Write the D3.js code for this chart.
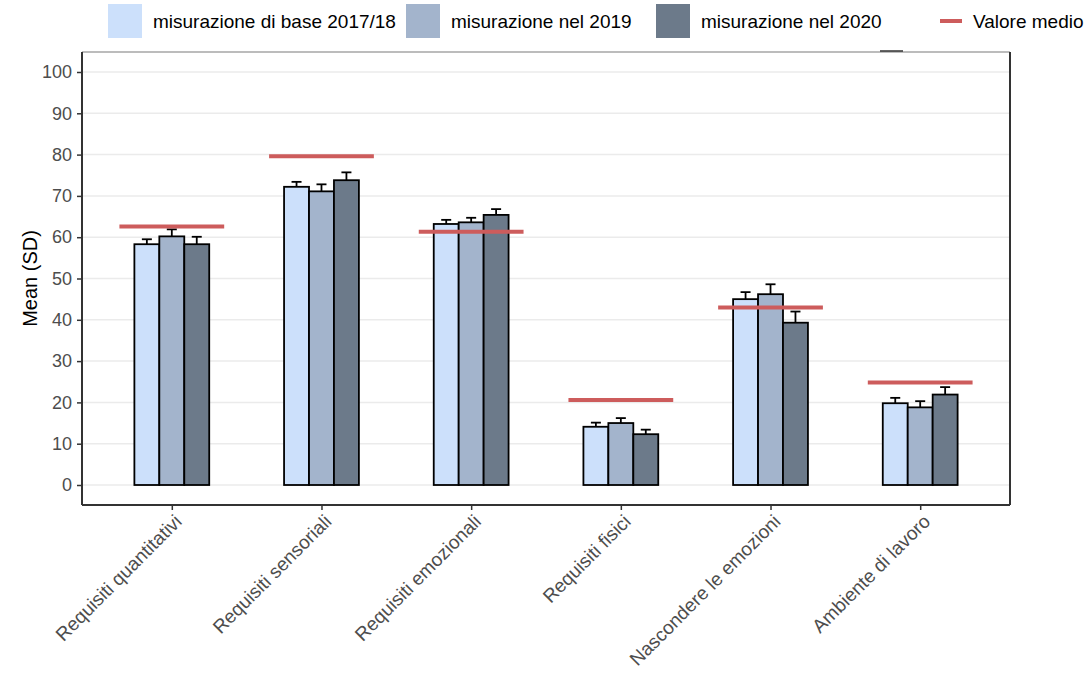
<!DOCTYPE html>
<html>
<head>
<meta charset="utf-8">
<script src="https://cdn.jsdelivr.net/npm/d3@7"></script>
<style>
  body { margin: 0; background: #fff; }
  svg { font-family: "Liberation Sans", Arial, sans-serif; }
</style>
</head>
<body>
<div id="chart"></div>
<script>
// data
var categories = ["Requisiti quantitativi", "Requisiti sensoriali", "Requisiti emozionali",
                  "Requisiti fisici", "Nascondere le emozioni", "Ambiente di lavoro"];
var seriesNames = ["misurazione di base 2017/18", "misurazione nel 2019", "misurazione nel 2020"];
var means2017 = [58.3, 72.2, 63.2, 14.1, 45.0, 19.8];
var sd2017    = [1.2, 1.2, 1.0, 1.0, 1.7, 1.3];
var means2019 = [60.2, 71.1, 63.6, 15.0, 46.2, 18.8];
var sd2019    = [1.7, 1.7, 1.1, 1.2, 2.4, 1.5];
var means2020 = [58.3, 73.8, 65.4, 12.3, 39.3, 21.9];
var sd2020    = [1.8, 1.9, 1.4, 1.1, 2.7, 1.8];
var overallMean = [62.6, 79.6, 61.3, 20.6, 43.0, 24.8];
var yTicks = [0, 10, 20, 30, 40, 50, 60, 70, 80, 90, 100];

var colors = ["#cce0fb", "#a3b4cc", "#6c7a8a"];
var meanColor = "#cd5c5c";

var width = 1088, height = 673;
var margin = {top: 52, right: 78, bottom: 168, left: 82};
var innerW = width - margin.left - margin.right,
    innerH = height - margin.top - margin.bottom;

var series = [
  {name: seriesNames[0], means: means2017, sd: sd2017},
  {name: seriesNames[1], means: means2019, sd: sd2019},
  {name: seriesNames[2], means: means2020, sd: sd2020}
];

var svg = d3.select("#chart").append("svg")
    .attr("width", width)
    .attr("height", height);

var g = svg.append("g")
    .attr("transform", "translate(" + margin.left + "," + margin.top + ")");

// ggplot-style discrete expansion: 0.6 units each side
var unit = innerW / (categories.length - 1 + 1.2);
var x = d3.scalePoint()
    .domain(categories)
    .range([0.6 * unit, innerW - 0.6 * unit]);

var y = d3.scaleLinear()
    .domain([0, 100])
    .range([433, 20]);

var barW = unit * 0.5 / 3;
var dodge = d3.scaleBand()
    .domain(d3.range(3))
    .range([-unit * 0.25, unit * 0.25]);

// grid
g.append("g").selectAll("line")
  .data(yTicks)
  .enter().append("line")
    .attr("x1", 0).attr("x2", innerW)
    .attr("y1", d => y(d)).attr("y2", d => y(d))
    .attr("stroke", "#ebebeb")
    .attr("stroke-width", 1.5);

// bars
series.forEach(function(s, i) {
  var grp = g.append("g");
  grp.selectAll("rect")
    .data(categories)
    .enter().append("rect")
      .attr("x", c => x(c) + dodge(i))
      .attr("y", (c, j) => y(s.means[j]))
      .attr("width", barW)
      .attr("height", (c, j) => y(0) - y(s.means[j]))
      .attr("fill", colors[i])
      .attr("stroke", "#000")
      .attr("stroke-width", 1.8);

  // upper error bars only
  var cx = c => x(c) + dodge(i) + barW / 2;
  grp.selectAll(".stem")
    .data(categories)
    .enter().append("line")
      .attr("x1", cx).attr("x2", cx)
      .attr("y1", (c, j) => y(s.means[j]))
      .attr("y2", (c, j) => y(s.means[j] + s.sd[j]))
      .attr("stroke", "#000").attr("stroke-width", 1.8);
  grp.selectAll(".cap")
    .data(categories)
    .enter().append("line")
      .attr("x1", c => cx(c) - 5).attr("x2", c => cx(c) + 5)
      .attr("y1", (c, j) => y(s.means[j] + s.sd[j]))
      .attr("y2", (c, j) => y(s.means[j] + s.sd[j]))
      .attr("stroke", "#000").attr("stroke-width", 1.8);
});

// mean lines
g.append("g").selectAll("line")
  .data(categories)
  .enter().append("line")
    .attr("x1", c => x(c) - unit * 0.35)
    .attr("x2", c => x(c) + unit * 0.35)
    .attr("y1", (c, j) => y(overallMean[j]))
    .attr("y2", (c, j) => y(overallMean[j]))
    .attr("stroke", meanColor)
    .attr("stroke-width", 4);

// panel border
g.append("line").attr("x1", 0).attr("x2", innerW).attr("y1", 0).attr("y2", 0)
  .attr("stroke", "#a6a6a6").attr("stroke-width", 1.5);
g.append("line").attr("x1", innerW).attr("x2", innerW).attr("y1", 0).attr("y2", innerH)
  .attr("stroke", "#333").attr("stroke-width", 2);
g.append("line").attr("x1", 798).attr("x2", 821).attr("y1", -1).attr("y2", -1)
  .attr("stroke", "#333").attr("stroke-width", 1.5);

// axes
var yAxis = g.append("g")
    .call(d3.axisLeft(y).tickValues(yTicks).tickSize(5).tickPadding(5));
var xAxis = g.append("g")
    .attr("transform", "translate(0," + innerH + ")")
    .call(d3.axisBottom(x).tickSize(5).tickPadding(3));

[yAxis, xAxis].forEach(function(ax) {
  ax.select(".domain").attr("stroke", "#333").attr("stroke-width", 2)
    .attr("d", ax === yAxis ? "M0,0V" + innerH : "M0,0H" + innerW);
  ax.selectAll(".tick line").attr("stroke", "#333").attr("stroke-width", 1.5);
  ax.selectAll(".tick text").attr("fill", "#4d4d4d").style("font-size", "18px");
});

xAxis.selectAll(".tick text")
    .style("font-size", "19px")
    .attr("text-anchor", "end")
    .attr("dy", "0.72em")
    .attr("transform", "translate(1,8) rotate(-45)")
    .attr("y", 0).attr("x", 0);

// y title
svg.append("text")
    .attr("transform", "translate(37," + (margin.top + innerH / 2) + ") rotate(-90)")
    .attr("text-anchor", "middle")
    .style("font-size", "20px")
    .attr("fill", "#000")
    .text("Mean (SD)");

// legend
var legendX = [108, 406, 656];
var legend = svg.append("g");
series.forEach(function(s, i) {
  legend.append("rect")
    .attr("x", legendX[i]).attr("y", 4)
    .attr("width", 34).attr("height", 34)
    .attr("fill", colors[i]);
  legend.append("text")
    .attr("x", legendX[i] + 45).attr("y", 21)
    .attr("dy", "0.35em")
    .style("font-size", "19px")
    .text(s.name);
});
legend.append("line")
  .attr("x1", 940).attr("x2", 962).attr("y1", 21).attr("y2", 21)
  .attr("stroke", meanColor).attr("stroke-width", 4);
legend.append("text")
  .attr("x", 973).attr("y", 21).attr("dy", "0.35em")
  .style("font-size", "19px")
  .text("Valore medio");
</script>
</body>
</html>
